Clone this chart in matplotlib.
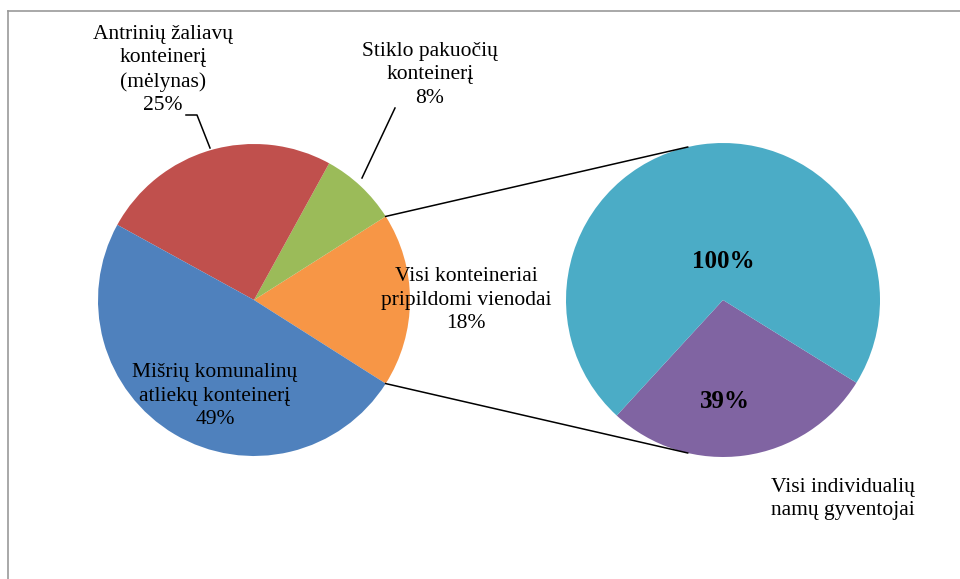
import matplotlib.pyplot as plt
import numpy as np
from matplotlib.lines import Line2D

plt.rcParams['font.family'] = ['Liberation Serif', 'DejaVu Serif']

# main pie (shares, %)
main_labels = ['Visi konteineriai\npripildomi vienodai\n18%',
               'Stiklo pakuočių\nkonteinerį\n8%',
               'Antrinių žaliavų\nkonteinerį\n(mėlynas)\n25%',
               'Mišrių komunalinų\natliekų konteinerį\n49%']
main_vals = [18, 8, 25, 49]
main_colors = ['#F79646', '#9BBB59', '#C0504D', '#4F81BD']

# secondary pie (split of the 18% slice)
sub_vals = [28, 72]
sub_texts = ['39%', '100%']
sub_colors = ['#8064A2', '#4BACC6']
sub_name = 'Visi individualių\nnamų gyventojai'

W, H = 960, 579
fig = plt.figure(figsize=(W / 100, H / 100), dpi=100)
ax = fig.add_axes([0, 0, 1, 1])

# frame (only left and top edges are visible in the crop)
fig.add_artist(Line2D([8 / W, 8 / W], [0, 1 - 11 / H], color='#999999', lw=1.2, transform=fig.transFigure))
fig.add_artist(Line2D([8 / W, 1], [1 - 11 / H, 1 - 11 / H], color='#999999', lw=1.2, transform=fig.transFigure))

c1 = (254, H - 300)
r1 = 156
c2 = (723, H - 300)
r2 = 157

start1 = -main_vals[0] / 100 * 360 / 2
ax.pie(main_vals, colors=main_colors, startangle=start1, counterclock=True,
       center=c1, radius=r1, wedgeprops=dict(linewidth=0), frame=True)

start2 = -132.6
ax.pie(sub_vals, colors=sub_colors, startangle=start2, counterclock=True,
       center=c2, radius=r2, wedgeprops=dict(linewidth=0), frame=True)
ax.set_xlim(0, W)
ax.set_ylim(0, H)
ax.set_aspect('auto')
ax.axis('off')

# connector lines
a1 = np.radians(-start1)
a2 = np.radians(103)
for s in (1, -1):
    p1 = (c1[0] + r1 * np.cos(a1), c1[1] + s * r1 * np.sin(a1))
    p2 = (c2[0] + r2 * np.cos(a2), c2[1] + s * r2 * np.sin(a2))
    ax.plot([p1[0], p2[0]], [p1[1], p2[1]], color='black', lw=1.1)

fs = 15.5
ls = 1.32
ax.text(466, H - 300, main_labels[0], ha='center', va='center', fontsize=fs, linespacing=ls)
ax.text(430, H - 75, main_labels[1], ha='center', va='center', fontsize=fs, linespacing=ls)
ax.text(163, H - 70, main_labels[2], ha='center', va='center', fontsize=fs, linespacing=ls)
ax.text(215, H - 396, main_labels[3], ha='center', va='center', fontsize=fs, linespacing=ls)

# leader lines
ax.plot([186, 197, 210], [H - 115, H - 115, H - 148], color='black', lw=1.1)
ax.plot([395, 362], [H - 108, H - 178], color='black', lw=1.1)

ax.text(723, H - 262, sub_texts[1], ha='center', va='center', fontsize=18, fontweight='bold')
ax.text(725, H - 402, sub_texts[0], ha='center', va='center', fontsize=18, fontweight='bold')
ax.text(843, H - 499, sub_name, ha='center', va='center', fontsize=fs, linespacing=ls)

fig.savefig('out.png', dpi=100)
